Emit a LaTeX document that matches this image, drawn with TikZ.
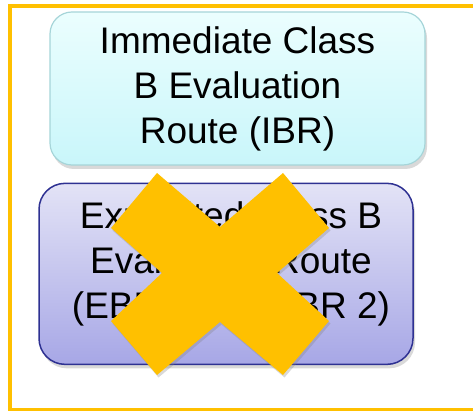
\documentclass[tikz,border=0pt]{standalone}
\usepackage{fontspec}
\setmainfont{Liberation Sans}
\usepackage{xcolor}
\usepackage{tikz}
\usetikzlibrary{positioning, shadows}

\definecolor{xorange}{HTML}{FFC000}
\definecolor{ibrtop}{HTML}{EBFEFE}
\definecolor{ibrbot}{HTML}{C9F6FA}
\definecolor{ibrline}{HTML}{A6D5D9}
\definecolor{ebrtop}{HTML}{E3E3F6}
\definecolor{ebrbot}{HTML}{A7A7E6}
\definecolor{ebrline}{HTML}{2E3192}

\tikzset{
  routetext/.style={align=center, inner sep=0pt, font=\fontsize{37}{45}\selectfont},
  routebox/.style={routetext, rounded corners=22pt,
    drop shadow={opacity=0.3, shadow xshift=2pt, shadow yshift=-4pt}},
  ibrbox/.style={routebox, draw=ibrline, line width=1.2pt,
    top color=ibrtop, bottom color=ibrbot,
    minimum width=375pt, minimum height=153pt},
  ebrbox/.style={routebox, rounded corners=26pt, draw=ebrline, line width=1.5pt,
    top color=ebrtop, bottom color=ebrbot,
    minimum width=374pt, minimum height=181pt}
}

\begin{document}
\begin{tikzpicture}[x=1pt, y=-1pt]
    \useasboundingbox (0,0) rectangle (473,411);
    \draw [xorange, line width=4pt] (473,6) -- (10,6) -- (10,409.5) -- (473,409.5); % frame, open at right
    \node [ibrbox] (ibr) at (237.5,88.5) {Immediate Class\\B Evaluation\\Route (IBR)};   % top route
    \node [ebrbox, below=17pt of ibr.south, anchor=north, xshift=-11.5pt] (ebr) {};      % crossed route
    \node [routetext] (ebrtext) at ([xshift=5pt, yshift=10pt]ebr.center)
          {Expedited Class B\\Evaluation Route\\(EBR, a.k.a. IBR 2)};                    % its label
    % big cross over the second route
    \fill [xorange, drop shadow={opacity=0.3, shadow xshift=1.5pt, shadow yshift=-2.5pt}]
          (111,228) -- (157,173) -- (220,227) -- (283,173) -- (329,228) -- (277,273)
       -- (329,321) -- (283,375) -- (220,322) -- (157,375) -- (111,321) -- (162,273) -- cycle;
\end{tikzpicture}
\end{document}
